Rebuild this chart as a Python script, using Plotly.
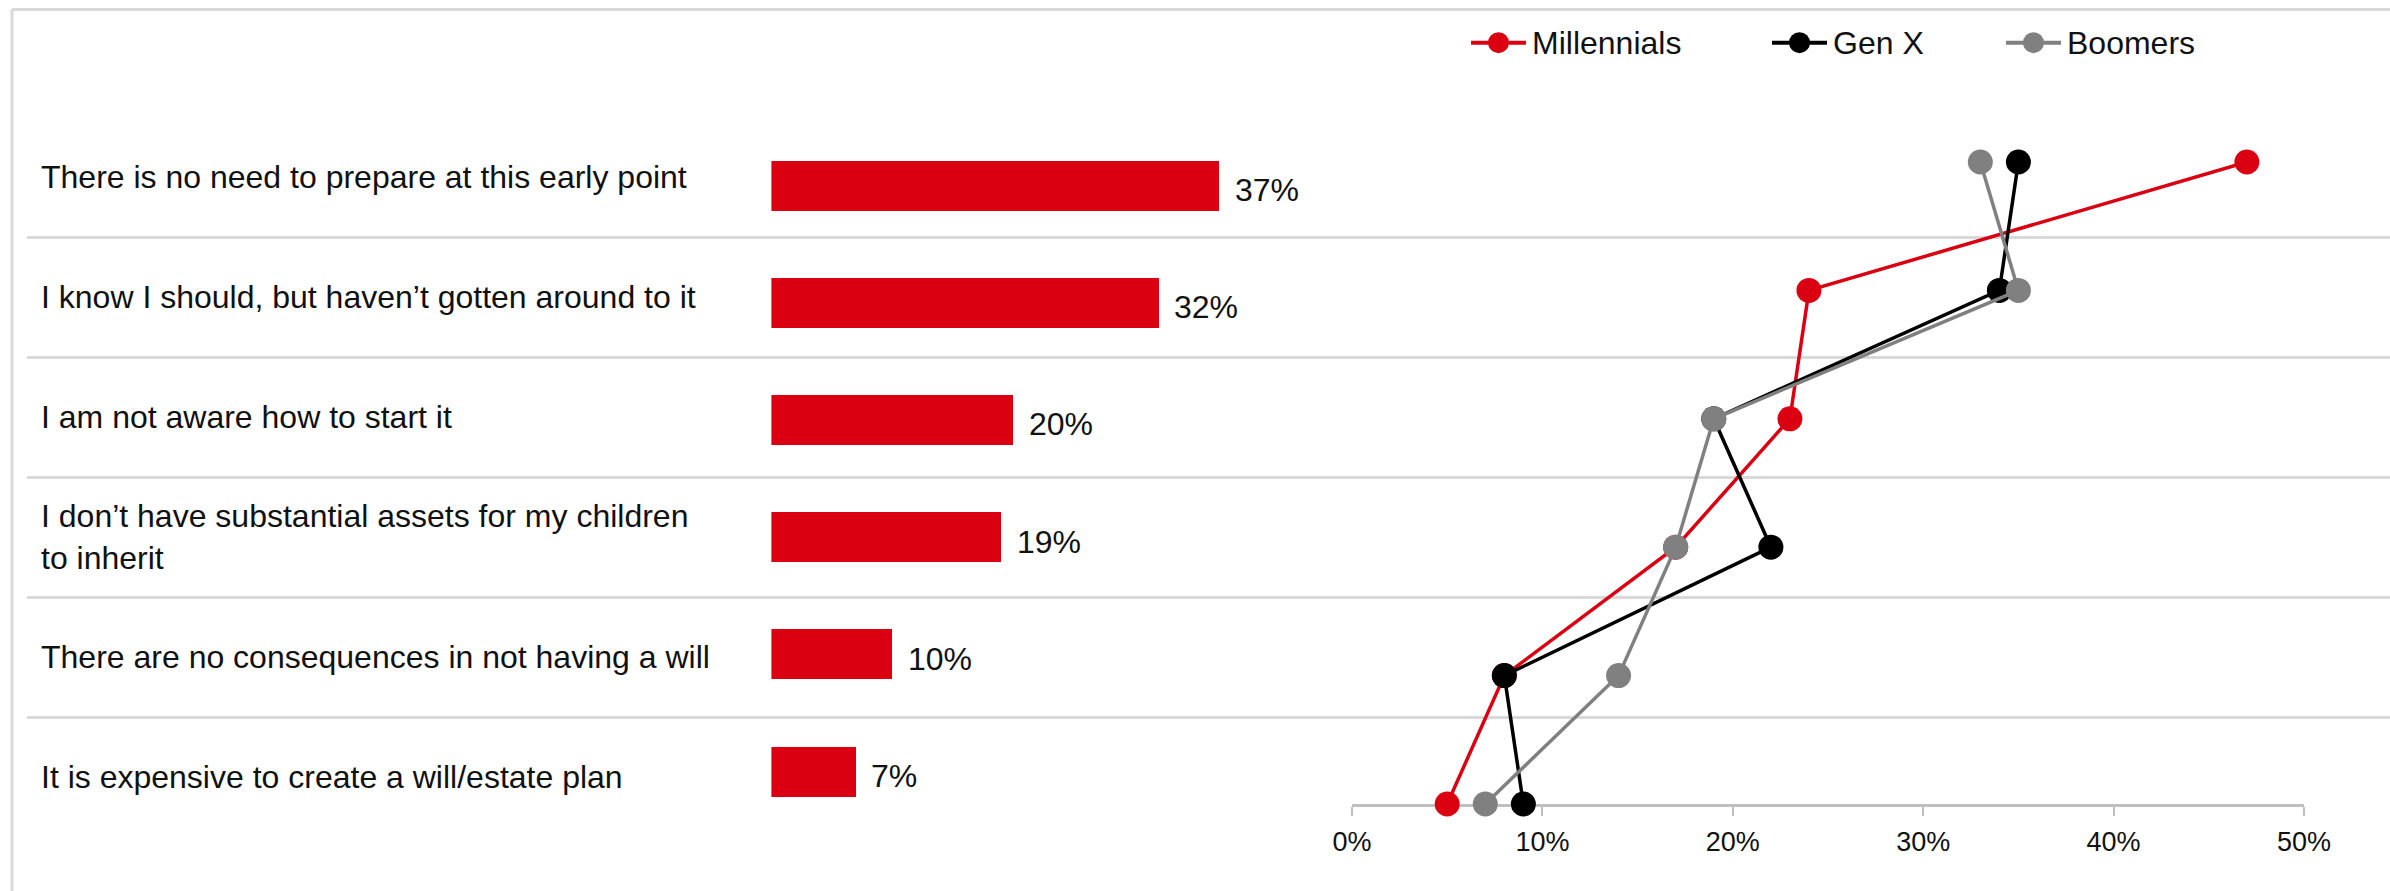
import plotly.graph_objects as go

# ---- data ----
reasons = [
    "There is no need to prepare at this early point",
    "I know I should, but haven\u2019t gotten around to it",
    "I am not aware how to start it",
    "I don\u2019t have substantial assets for my children<br>to inherit",
    "There are no consequences in not having a will",
    "It is expensive to create a will/estate plan",
]
overall = [37, 32, 20, 19, 10, 7]

series_names = ["Millennials", "Gen X", "Boomers"]
millennials = [47, 24, 23, 17, 8, 5]
gen_x = [35, 34, 19, 22, 8, 9]
boomers = [33, 35, 19, 17, 14, 7]

x_ticks = [0, 10, 20, 30, 40, 50]

# ---- styling ----
W, H = 2390, 891
FONT = "Liberation Sans, Arial, sans-serif"
TEXT = "#111111"
RED = "#db0011"
BLACK = "#000000"
GREY = "#808080"
RULE = "#d9d9d9"
series_colors = [RED, BLACK, GREY]


def fx(p):
    return p / W


def fy(p):
    return 1 - p / H


fig = go.Figure()

# Row grid with left-aligned labels (subplot 1, drawn first so lines sit above the rules)
fig.add_trace(go.Scatter(x=[0.5] * len(reasons), y=reasons, mode="markers",
                         marker=dict(opacity=0), hoverinfo="skip", showlegend=False,
                         xaxis="x", yaxis="y"))

# Overall bars (subplot 2)
fig.add_trace(go.Bar(x=overall, y=reasons, orientation="h", marker_color=RED,
                     marker_line_width=0, width=0.427, showlegend=False,
                     xaxis="x2", yaxis="y2", hoverinfo="x+y"))
for v, r in zip(overall, reasons):
    fig.add_annotation(x=v, y=r, xref="x2", yref="y2", text=f"{v}%",
                       showarrow=False, xanchor="left", yanchor="middle",
                       xshift=13, yshift=-4,
                       font=dict(family=FONT, size=32, color=TEXT))

# Generation lines (subplot 3)
for name, vals, col in zip(series_names, [millennials, gen_x, boomers], series_colors):
    fig.add_trace(go.Scatter(x=vals, y=reasons, mode="lines+markers", name=name,
                             line=dict(color=col, width=3.5),
                             marker=dict(color=col, size=25, line=dict(width=0)),
                             cliponaxis=False, showlegend=False,
                             xaxis="x3", yaxis="y3"))

# Custom legend: long line with a dot, then the series name
legend_x = [1471, 1772, 2006]
legend_y = 42.7
for name, col, x0 in zip(series_names, series_colors, legend_x):
    fig.add_shape(type="line", xref="paper", yref="paper",
                  x0=fx(x0), x1=fx(x0 + 55), y0=fy(legend_y), y1=fy(legend_y),
                  line=dict(color=col, width=4))
    fig.add_shape(type="circle", xref="paper", yref="paper",
                  x0=fx(x0 + 17), x1=fx(x0 + 38),
                  y0=fy(legend_y + 10.5), y1=fy(legend_y - 10.5),
                  fillcolor=col, line=dict(color=col, width=0))
    fig.add_annotation(xref="paper", yref="paper", x=fx(x0 + 59), y=fy(legend_y),
                       text=name, showarrow=False, xanchor="left", yanchor="middle",
                       font=dict(family=FONT, size=32, color=TEXT))

# Frame lines along top and left edge
fig.add_shape(type="line", xref="paper", yref="paper", x0=fx(12), x1=1,
              y0=fy(9.5), y1=fy(9.5), line=dict(color=RULE, width=3))
fig.add_shape(type="line", xref="paper", yref="paper", x0=fx(12), x1=fx(12),
              y0=fy(9.5), y1=0, line=dict(color=RULE, width=3))

fig.update_layout(
    template="none",
    width=W, height=H,
    margin=dict(l=0, r=0, t=0, b=0, pad=0, autoexpand=False),
    paper_bgcolor="white", plot_bgcolor="rgba(0,0,0,0)",
    font=dict(family=FONT, size=32, color=TEXT),
    showlegend=False,
    bargap=0,
    xaxis=dict(domain=[fx(27), 1], range=[0, 1], visible=False, fixedrange=True,
               automargin=False),
    yaxis=dict(domain=[fy(835.8), fy(118.2)], type="category",
               categoryorder="array", categoryarray=reasons,
               range=[5.49, -0.49], tickson="boundaries",
               showgrid=True, gridcolor=RULE, gridwidth=2.5,
               ticks="", showline=False, zeroline=False, automargin=False,
               ticklabelposition="inside", ticklabelstandoff=11,
               tickfont=dict(family=FONT, size=32, color=TEXT)),
    xaxis2=dict(domain=[fx(771.4), fx(771.4 + 45 * 12.12)], range=[0, 45],
                visible=False, anchor="y2", automargin=False),
    yaxis2=dict(domain=[fy(830.6), fy(127.4)], type="category",
                categoryorder="array", categoryarray=reasons,
                range=[5.5, -0.5], visible=False, anchor="x2", automargin=False),
    xaxis3=dict(domain=[fx(1352), fx(2304)], range=[0, 50], anchor="y3",
                tickvals=x_ticks, ticktext=[f"{t}%" for t in x_ticks],
                showline=True, linecolor="#bfbfbf", linewidth=3,
                ticks="outside", ticklen=9, tickwidth=2, tickcolor="#bfbfbf",
                showgrid=False, zeroline=False, layer="below traces",
                automargin=False,
                tickfont=dict(family=FONT, size=27, color=TEXT),
                ticklabelstandoff=3),
    yaxis3=dict(domain=[fy(804), fy(162)], type="category",
                categoryorder="array", categoryarray=reasons,
                range=[5, 0], visible=False, anchor="x3", automargin=False),
)

fig.write_html("out.html")
